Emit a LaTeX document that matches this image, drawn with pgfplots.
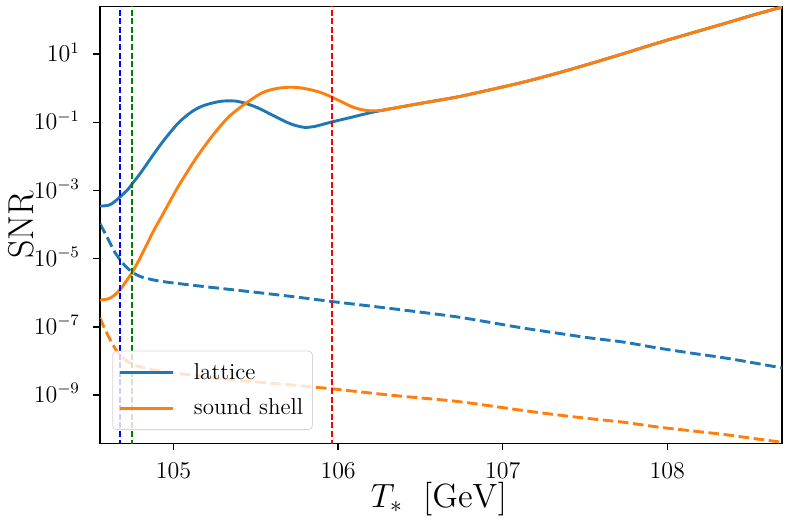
\RequirePackage{fix-cm}
\documentclass[border=0pt]{standalone}
\usepackage{pgfplots}
\pgfplotsset{compat=1.18}
\definecolor{tabblue}{HTML}{1F77B4}
\definecolor{taborange}{HTML}{FF7F0E}
\definecolor{mplgreen}{HTML}{008000}
\begin{document}
\begin{tikzpicture}
\begin{axis}[
  name=ax,
  scale only axis, width=341pt, height=218.4pt,
  xmin=104.553, xmax=108.697,
  ymode=log, ymin=3.8e-11, ymax=2.5e2,
  xtick={105,106,107,108},
  ytick={1e-9,1e-7,1e-5,1e-3,1e-1,1e1},
  yminorticks=false, xminorticks=false,
  tick pos=left, tick align=outside,
  major tick length=3.3pt,
  tick style={line width=0.76pt, black},
  axis line style={line width=0.76pt, black},
  xticklabel style={anchor=base, inner sep=0pt, yshift=-14.5pt, font=\fontsize{12}{14}\selectfont},
  yticklabel style={anchor=base east, inner sep=0pt, xshift=-6.5pt, yshift=-3.8pt, font=\fontsize{12}{14}\selectfont},
  xlabel={$T_*\ \ [\mathrm{GeV}]$},
  ylabel={SNR},
  xlabel style={at={(axis description cs:0.497,-0.148)}, anchor=base, font=\fontsize{16.8}{19}\selectfont},
  ylabel style={at={(axis description cs:-0.0978,0.5)}, anchor=base, font=\fontsize{18}{20}\selectfont},
  legend style={at={(axis description cs:0.018,0.0304)}, anchor=south west,
    draw=black!16, fill=white, fill opacity=0.8, text opacity=1,
    rounded corners=2pt, inner xsep=2.7pt, inner ysep=4pt, row sep=4.3pt,
    font=\fontsize{11.5}{13}\selectfont,
    nodes={inner sep=2pt, text depth=0.15em, text opacity=1}},
  legend cell align=left,
  legend image code/.code={\draw[#1] (0pt,0pt) -- (26.5pt,0pt); \path[draw=none,fill=none] (0pt,-3.8pt) rectangle (26.5pt,0pt);},
]
% lattice (solid)
\addplot[tabblue, line width=1.45pt, smooth] coordinates {
(104.553,3.47e-4) (104.583,3.55e-4) (104.614,3.80e-4) (104.644,4.8e-4) (104.675,6.46e-4)
(104.725,1.10e-3) (104.749,1.58e-3) (104.787,2.7e-3) (104.827,5.01e-3) (104.877,1.12e-2)
(104.928,2.45e-2) (104.979,5.01e-2) (105.029,9.55e-2) (105.080,0.158) (105.130,0.234)
(105.181,0.307) (105.232,0.363) (105.283,0.410) (105.333,0.427) (105.384,0.415) (105.434,0.363)
(105.485,0.300) (105.536,0.234) (105.587,0.175) (105.637,0.132) (105.688,0.100)
(105.738,8.13e-2) (105.799,7.08e-2) (105.860,7.59e-2) (105.910,8.8e-2) (105.961,0.102)
(106.022,0.120) (106.083,0.141) (106.144,0.167) (106.205,0.195) (106.266,0.224)
(106.346,0.263) (106.530,0.380) (106.721,0.550) (106.920,0.890) (107.126,1.51)
(107.330,2.75) (107.532,5.25) (107.735,10.4) (107.937,20.9) (108.140,40.5)
(108.342,77.6) (108.520,140) (108.697,240)};
\addlegendentry{\kern8pt lattice}
% sound shell (solid)
\addplot[taborange, line width=1.45pt, smooth] coordinates {
(104.553,6.17e-7) (104.583,6.3e-7) (104.614,6.92e-7) (104.644,8.7e-7) (104.675,1.23e-6)
(104.710,2.1e-6) (104.749,3.98e-6) (104.787,8.5e-6) (104.827,2.04e-5) (104.877,6.3e-5)
(104.928,1.74e-4) (104.979,4.9e-4) (105.029,1.32e-3) (105.080,3.3e-3) (105.130,7.94e-3)
(105.181,1.78e-2) (105.232,3.80e-2) (105.283,7.6e-2) (105.333,0.141) (105.384,0.229)
(105.434,0.347) (105.485,0.513) (105.536,0.724) (105.587,0.890) (105.637,1.00)
(105.678,1.05) (105.718,1.07) (105.768,1.03) (105.819,0.933) (105.890,0.760)
(105.961,0.550) (106.022,0.398) (106.083,0.288) (106.134,0.240) (106.184,0.219)
(106.225,0.218) (106.266,0.224) (106.346,0.263) (106.530,0.380) (106.721,0.550)
(106.920,0.890) (107.126,1.51) (107.330,2.75) (107.532,5.25) (107.735,10.4)
(107.937,20.9) (108.140,40.5) (108.342,77.6) (108.520,140) (108.697,240)};
\addlegendentry{\kern8pt sound shell}
% lattice (dashed)
\addplot[tabblue, line width=1.45pt, smooth, dash pattern=on 5.3pt off 2.3pt, forget plot] coordinates {
(104.553,1.05e-4) (104.583,5.62e-5) (104.614,2.88e-5) (104.644,1.51e-5) (104.675,9.33e-6)
(104.705,6.17e-6) (104.749,3.98e-6) (104.786,3.16e-6) (104.827,2.69e-6) (104.928,2.14e-6)
(105.130,1.62e-6) (105.333,1.26e-6) (105.536,9.77e-7) (105.750,7.4e-7) (105.961,5.50e-7)
(106.150,4.3e-7) (106.346,3.31e-7) (106.530,2.57e-7) (106.721,1.95e-7) (106.920,1.35e-7)
(107.126,9.12e-8) (107.330,6.5e-8) (107.532,4.68e-8) (107.734,3.55e-8) (107.937,2.40e-8)
(108.140,1.70e-8) (108.342,1.23e-8) (108.520,8.8e-9) (108.697,6.17e-9)};
% sound shell (dashed)
\addplot[taborange, line width=1.45pt, smooth, dash pattern=on 5.3pt off 2.3pt, forget plot] coordinates {
(104.553,1.82e-7) (104.573,1.07e-7) (104.604,5.25e-8) (104.634,2.82e-8) (104.664,1.70e-8)
(104.705,1.10e-8) (104.749,7.76e-9) (104.827,6.17e-9) (104.928,4.90e-9) (105.130,3.72e-9)
(105.333,2.82e-9) (105.650,2.09e-9) (105.961,1.51e-9) (106.150,1.20e-9) (106.346,9.55e-10)
(106.530,7.9e-10) (106.721,6.46e-10) (106.920,4.8e-10) (107.126,3.47e-10) (107.330,2.6e-10)
(107.532,2.00e-10) (107.734,1.58e-10) (107.937,1.15e-10) (108.140,8.9e-11) (108.342,6.92e-11)
(108.520,5.3e-11) (108.697,4.07e-11)};
% vertical markers
\addplot[black, line width=0.8pt, dash pattern=on 3pt off 1.3pt, forget plot] coordinates {(104.556,1e-12) (104.556,1e3)};
\addplot[blue, line width=0.8pt, dash pattern=on 3pt off 1.3pt, forget plot] coordinates {(104.675,1e-12) (104.675,1e3)};
\addplot[mplgreen, line width=0.8pt, dash pattern=on 3pt off 1.3pt, forget plot] coordinates {(104.749,1e-12) (104.749,1e3)};
\addplot[red, line width=0.8pt, dash pattern=on 3pt off 1.3pt, forget plot] coordinates {(105.962,1e-12) (105.962,1e3)};
\end{axis}
\pgfresetboundingbox
\path[use as bounding box] ([xshift=-50pt,yshift=-40.35pt]ax.south west) rectangle ([xshift=3.5pt,yshift=3.25pt]ax.north east);
\end{tikzpicture}
\end{document}
